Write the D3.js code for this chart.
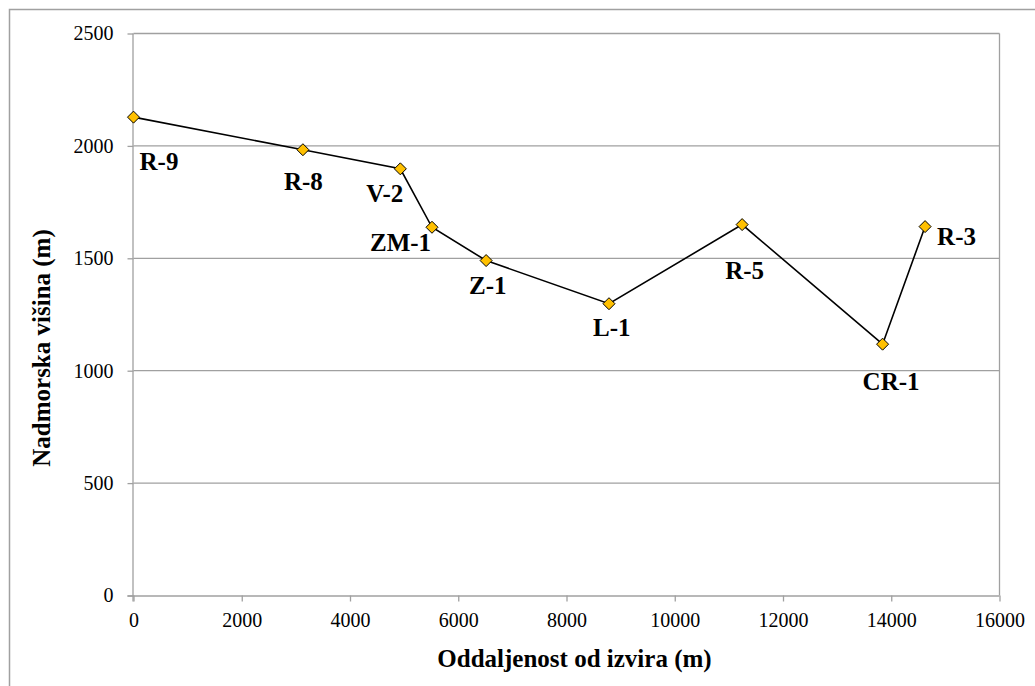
<!DOCTYPE html>
<html>
<head>
<meta charset="utf-8">
<script src="https://cdn.jsdelivr.net/npm/d3@7"></script>
<style>
  html, body { margin: 0; padding: 0; background: #fff; }
  svg { display: block; }
  svg text { font-family: "Liberation Serif", "Times New Roman", serif; }
</style>
</head>
<body>
<svg id="chart" width="1035" height="686"></svg>
<script>
// ---- data ----
const stations  = ["R-9", "R-8", "V-2", "ZM-1", "Z-1", "L-1", "R-5", "CR-1", "R-3"];
const distances = [0, 3130, 4930, 5515, 6515, 8785, 11245, 13840, 14625];
const elevations = [2128, 1983, 1898, 1638, 1490, 1298, 1650, 1118, 1641];
const xTicks = [0, 2000, 4000, 6000, 8000, 10000, 12000, 14000, 16000];
const yTicks = [0, 500, 1000, 1500, 2000, 2500];
const xTitle = "Oddaljenost od izvira (m)";
const yTitle = "Nadmorska višina (m)";

// label placement (layout, in px relative to the marker)
const labelOffsets = [[6, 53], [-19, 40], [-34, 33], [-62, 24], [-17, 33], [-16, 32], [-17, 54], [-20, 46], [12, 18]];

const svg = d3.select("#chart");
const m = { left: 133.5, right: 999.5, top: 33.5, bottom: 595.5 };
const font = "Liberation Serif, Times New Roman, serif";
const grid = "#a0a0a0";

// outer frame
svg.append("rect").attr("x", 9.5).attr("y", 9.5).attr("width", 1100).attr("height", 800)
  .attr("fill", "none").attr("stroke", "#a0a0a0").attr("stroke-width", 1.5);

const x = d3.scaleLinear().domain([0, 16000]).range([m.left, m.right]);
const y = d3.scaleLinear().domain([0, 2500]).range([m.bottom, m.top]);

// horizontal gridlines
svg.append("g").selectAll("line").data(yTicks.filter(d => d > 0)).join("line")
  .attr("x1", m.left).attr("x2", m.right)
  .attr("y1", d => y(d)).attr("y2", d => y(d))
  .attr("stroke", grid).attr("stroke-width", 1.3);

// right border of plot area
svg.append("line").attr("x1", m.right).attr("x2", m.right).attr("y1", m.top).attr("y2", m.bottom)
  .attr("stroke", grid).attr("stroke-width", 1.3);

// axes
const xAxis = svg.append("g").attr("transform", `translate(0,${m.bottom})`)
  .call(d3.axisBottom(x).tickValues(xTicks).tickSize(6).tickPadding(11).tickFormat(d3.format("d")));
const yAxis = svg.append("g").attr("transform", `translate(${m.left},0)`)
  .call(d3.axisLeft(y).tickValues(yTicks).tickSize(6).tickPadding(14).tickFormat(d3.format("d")));
[xAxis, yAxis].forEach(g => {
  g.attr("font-family", font).attr("font-size", 20);
  g.select(".domain").attr("stroke", grid).attr("stroke-width", 1.3);
  g.selectAll(".tick line").attr("stroke", grid).attr("stroke-width", 1.3);
  g.selectAll(".tick text").attr("fill", "#000").style("font-size", "20px");
});
xAxis.selectAll(".domain").attr("d", `M${m.left - 6},0.5H${m.right}`);
yAxis.selectAll(".domain").attr("d", `M-0.5,${m.top}V${m.bottom + 6}`);

// line
const pts = distances.map((d, i) => ({ x: d, y: elevations[i], name: stations[i], off: labelOffsets[i] }));
svg.append("path").datum(pts)
  .attr("fill", "none").attr("stroke", "#000").attr("stroke-width", 1.6)
  .attr("d", d3.line().x(d => x(d.x)).y(d => y(d.y)));

// markers
svg.append("g").selectAll("path").data(pts).join("path")
  .attr("transform", d => `translate(${x(d.x)},${y(d.y)})`)
  .attr("d", "M0,-6L6,0L0,6L-6,0Z")
  .attr("fill", "#ffc000").attr("stroke", "#000").attr("stroke-width", 1);

// labels
svg.append("g").selectAll("text").data(pts).join("text")
  .attr("x", d => x(d.x) + d.off[0]).attr("y", d => y(d.y) + d.off[1])
  .style("font-size", "25px").style("font-weight", "bold")
  .text(d => d.name);

// axis titles
svg.append("text").attr("x", (m.left + m.right) / 2 + 8).attr("y", 667)
  .attr("text-anchor", "middle")
  .style("font-size", "25px").style("font-weight", "bold")
  .text(xTitle);
svg.append("text").attr("transform", `translate(50,348) rotate(-90)`)
  .attr("text-anchor", "middle")
  .style("font-size", "25px").style("font-weight", "bold")
  .text(yTitle);
</script>
</body>
</html>
